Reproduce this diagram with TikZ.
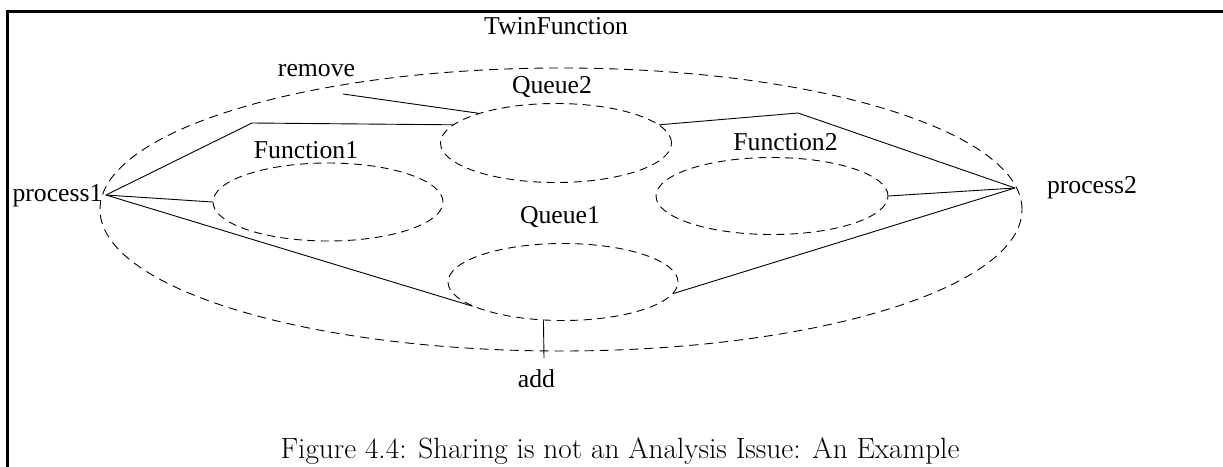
\documentclass[tikz,border=0pt]{standalone}
\usepackage{fontspec}
\usetikzlibrary{shapes.geometric}
\newfontfamily\labelfont{Liberation Serif}
\tikzset{
  region/.style={ellipse, draw, line width=0.9pt, dash pattern=on 8pt off 5.5pt, inner sep=0pt},
  outerregion/.style={ellipse, draw, line width=0.9pt, dash pattern=on 9pt off 6pt, inner sep=0pt},
  lbl/.style={anchor=base, inner sep=0pt, font=\labelfont\fontsize{25.7}{30}\selectfont},
  wire/.style={line width=0.9pt, line join=miter},
  frame/.style={line width=3pt, line cap=rect}
}
\begin{document}
\begin{tikzpicture}[x=1pt, y=-1pt]
\useasboundingbox (0,0) rectangle (1223,466);
% page frame
\draw[frame] (7.5,470) -- (7.5,11) -- (1226,11);

% regions
\node[outerregion, minimum width=922pt, minimum height=283pt] (twin) at (561,209.5) {};
\node[region, minimum width=231pt, minimum height=79pt] (q2) at (556,143) {};
\node[region, minimum width=230pt, minimum height=78pt] (f1) at (328,202) {};
\node[region, minimum width=232pt, minimum height=77pt] (f2) at (772,196) {};
\node[region, minimum width=230pt, minimum height=77pt] (q1) at (563,282) {};

% labels
\node[lbl] (twinlbl) at (556,34) {TwinFunction};
\node[lbl] (removelbl) at (316.5,76) {remove};
\node[lbl] (q2lbl) at (552,93) {Queue2};
\node[lbl] (f1lbl) at (306,158) {Function1};
\node[lbl] (f2lbl) at (785.5,150) {Function2};
\node[lbl] (p1lbl) at (57.5,201) {process1};
\node[lbl] (p2lbl) at (1092,193) {process2};
\node[lbl] (q1lbl) at (560,223) {Queue1};
\node[lbl] (addlbl) at (536.5,387) {add};

% ports and bends
\coordinate (p1) at (106,195);
\coordinate (p2) at (1015,188);
\coordinate (b1) at (252,123);
\coordinate (b2) at (798,113);
\coordinate (rm) at (343,94);
\coordinate (ad) at (544,358);

% connections
\draw[wire] (p1) -- (b1) -- (q2.170);
\draw[wire] (rm) -- (q2.159);
\draw[wire] (p1) -- (f1.west);
\draw[wire] (p1) -- (q1.195);
\draw[wire] (q2.10) -- (b2) -- (p2);
\draw[wire] (f2.east) -- (p2);
\draw[wire] (q1.354) -- (p2);
\draw[wire] (q1.243) -- (ad);

% caption
\node[anchor=base, inner sep=0pt, font=\fontsize{29.3}{35}\selectfont] (caption) at (620,458)
  {Figure 4.4: Sharing is not an Analysis Issue: An Example};
\end{tikzpicture}
\end{document}
